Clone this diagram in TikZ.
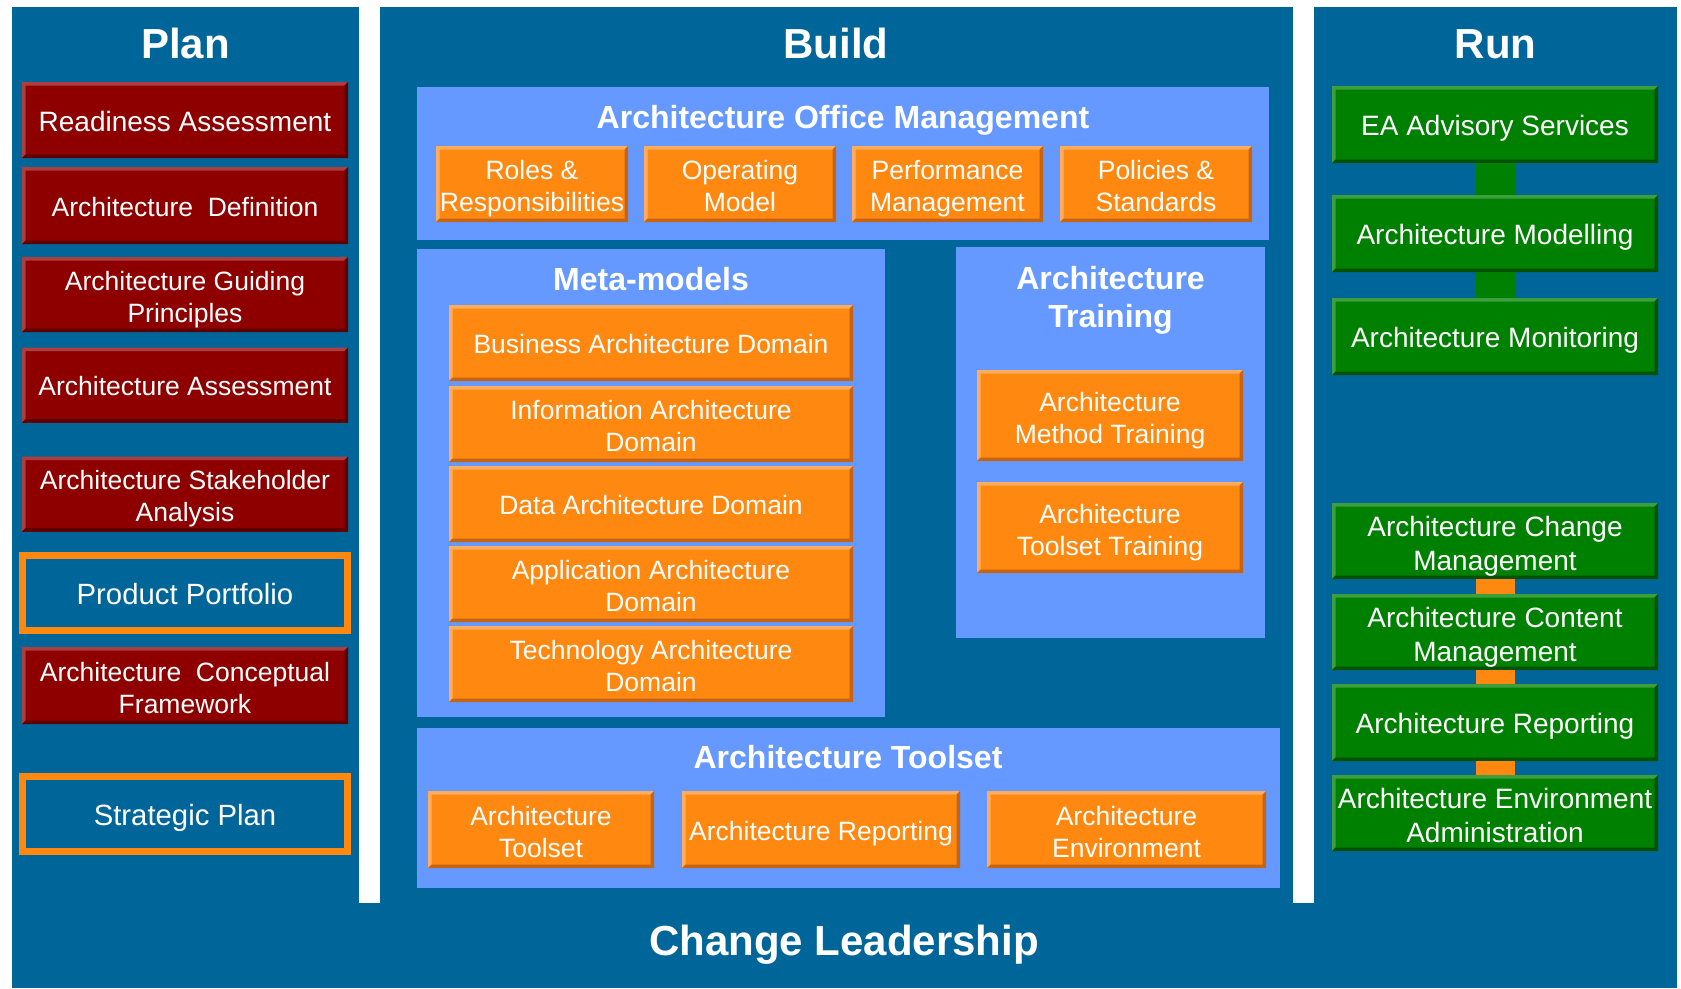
\documentclass[tikz,border=0pt]{standalone}
\usepackage{fontspec}
\setmainfont{Liberation Sans}
\definecolor{cblue}{RGB}{0,102,153}
\definecolor{clight}{RGB}{102,153,255}
\definecolor{corange}{RGB}{255,136,17}
\definecolor{corangeL}{RGB}{255,172,92}
\definecolor{corangeD}{RGB}{196,100,20}
\definecolor{cred}{RGB}{142,0,0}
\definecolor{credL}{RGB}{172,62,62}
\definecolor{credD}{RGB}{92,0,0}
\definecolor{cgreen}{RGB}{0,128,0}
\definecolor{cgreenL}{RGB}{62,158,62}
\definecolor{cgreenD}{RGB}{0,82,0}
\newcommand{\myTopStrut}[1]{\rule{0pt}{#1}}
\newcommand{\myLowStrut}[1]{\rule[-#1]{0pt}{#1}}
\tikzset{
  bevel/.style n args={3}{fill=#1, path picture={
    \fill[#2] (path picture bounding box.south west) -- (path picture bounding box.north west) -- (path picture bounding box.north east) -- ([shift={(-3.5pt,-3.5pt)}]path picture bounding box.north east) -- ([shift={(3.5pt,-3.5pt)}]path picture bounding box.north west) -- ([shift={(3.5pt,3.5pt)}]path picture bounding box.south west) -- cycle;
    \fill[#3] (path picture bounding box.south west) -- (path picture bounding box.south east) -- (path picture bounding box.north east) -- ([shift={(-3.5pt,-3.5pt)}]path picture bounding box.north east) -- ([shift={(-3.5pt,3.5pt)}]path picture bounding box.south east) -- ([shift={(3.5pt,3.5pt)}]path picture bounding box.south west) -- cycle;
  }},
  boxbase/.style={rectangle, inner sep=0pt, align=center, text=white,
    execute at begin node={\myTopStrut{1.03em}}, execute at end node={\myLowStrut{0.212em}}},
  twoline/.style={execute at begin node={\myTopStrut{\dimexpr\baselineskip+0.73em+9.6pt\relax}}},
  redbox/.style={boxbase, bevel={cred}{credL}{credD}, minimum width=326, minimum height=76, font=\fontsize{26.5}{32}\selectfont},
  framebox/.style={boxbase, fill=cblue, draw=corange, line width=7pt, minimum width=325, minimum height=75, font=\fontsize{29.3}{33}\selectfont},
  greenbox/.style={redbox, bevel={cgreen}{cgreenL}{cgreenD}, font=\fontsize{28}{34}\selectfont},
  orangebox/.style={boxbase, bevel={corange}{corangeL}{corangeD}, font=\fontsize{26.5}{32}\selectfont},
  coltitle/.style={text=white, font=\bfseries\fontsize{42}{48}\selectfont, anchor=base, inner sep=0pt},
  grouptitle/.style={text=white, font=\bfseries\fontsize{32}{38}\selectfont, align=center, inner sep=0pt},
  panel/.style={fill=clight},
}
\begin{document}
\begin{tikzpicture}[x=1pt,y=-1pt]
\useasboundingbox (0,0) rectangle (1681,988);
\fill[white] (0,0) rectangle (1681,988);
% main dark blue shape
\fill[cblue] (12,7) rectangle (1677,988);
\fill[white] (359,7) rectangle (380,903);
\fill[white] (1293,7) rectangle (1314,903);

% column titles
\node[coltitle] (plan) at (185.5,58) {Plan};
\node[coltitle] (build) at (836,58) {Build};
\node[coltitle] (run) at (1495.5,58) {Run};
\node[coltitle] (change) at (844,955) {Change Leadership};

% Plan column
\node[redbox, font=\fontsize{28}{32}\selectfont] (ready) at (185,120) {Readiness Assessment};
\node[redbox, minimum height=77] (def) at (185,205.5) {Architecture\ \ Definition};
\node[redbox, twoline, minimum height=75] (guide) at (185,294.5) {Architecture Guiding\\Principles};
\node[redbox, minimum height=75] (assess) at (185,385) {Architecture Assessment};
\node[redbox, twoline, minimum height=75] (stake) at (185,494) {Architecture Stakeholder\\Analysis};
\node[framebox] (product) at (185,593) {Product Portfolio};
\node[redbox, twoline, minimum height=77] (concept) at (185,685.5) {Architecture\ \ Conceptual\\Framework};
\node[framebox] (strategic) at (185,814) {Strategic Plan};

% Build column: Architecture Office Management
\fill[panel] (417,87) rectangle (1269,240);
\node[grouptitle] (aomt) at (843,120) {Architecture Office Management};
\node[orangebox, twoline, minimum width=192, minimum height=76] (roles) at (532,184) {Roles \&\\Responsibilities};
\node[orangebox, twoline, minimum width=192, minimum height=76] (opmodel) at (740,184) {Operating\\Model};
\node[orangebox, twoline, minimum width=191, minimum height=76] (perf) at (947.5,184) {Performance\\Management};
\node[orangebox, twoline, minimum width=192, minimum height=76] (policies) at (1156,184) {Policies \&\\Standards};

% Meta-models
\fill[panel] (417,249) rectangle (885,717);
\node[grouptitle] (metat) at (651,279) {Meta-models};
\node[orangebox, minimum width=404, minimum height=76] (bad) at (651,343) {Business Architecture Domain};
\node[orangebox, twoline, minimum width=404, minimum height=76] (iad) at (651,424) {Information Architecture\\Domain};
\node[orangebox, minimum width=404, minimum height=76] (dad) at (651,504) {Data Architecture Domain};
\node[orangebox, twoline, minimum width=404, minimum height=76] (aad) at (651,584) {Application Architecture\\Domain};
\node[orangebox, twoline, minimum width=404, minimum height=76] (tad) at (651,664) {Technology Architecture\\Domain};

% Architecture Training
\fill[panel] (956,247) rectangle (1265,638);
\node[grouptitle] (traint) at (1110.5,300) {Architecture\\Training};
\node[orangebox, twoline, minimum width=266, minimum height=91] (amt) at (1110,415.5) {Architecture\\Method Training};
\node[orangebox, twoline, minimum width=266, minimum height=91] (att) at (1110,527.5) {Architecture\\Toolset Training};

% Architecture Toolset
\fill[panel] (417,728) rectangle (1280,888);
\node[grouptitle] (toolt) at (848,757) {Architecture Toolset};
\node[orangebox, twoline, minimum width=226, minimum height=77] (atool) at (541,829.5) {Architecture\\Toolset};
\node[orangebox, minimum width=278, minimum height=77] (arep) at (821,829.5) {Architecture Reporting};
\node[orangebox, twoline, minimum width=279, minimum height=77] (aenv) at (1126.5,829.5) {Architecture\\Environment};

% Run column
\node[greenbox, minimum height=77] (ea) at (1495,124.5) {EA Advisory Services};
\node[greenbox, minimum height=77] (model) at (1495,233.5) {Architecture Modelling};
\node[greenbox, minimum height=77] (monitor) at (1495,336.5) {Architecture Monitoring};
\node[greenbox, twoline] (chg) at (1495,541) {Architecture Change\\Management};
\node[greenbox, twoline] (cont) at (1495,632) {Architecture Content\\Management};
\node[greenbox, minimum height=77] (rrep) at (1495,722.5) {Architecture Reporting};
\node[greenbox, twoline] (envadm) at (1495,813) {Architecture Environment\\Administration};

% Run connectors
\fill[cgreen] ([xshift=-19.5pt]ea.south) rectangle ([xshift=19.5pt]model.north);
\fill[cgreen] ([xshift=-19.5pt]model.south) rectangle ([xshift=19.5pt]monitor.north);
\fill[corange] ([xshift=-19.5pt]chg.south) rectangle ([xshift=19.5pt]cont.north);
\fill[corange] ([xshift=-19.5pt]cont.south) rectangle ([xshift=19.5pt]rrep.north);
\fill[corange] ([xshift=-19.5pt]rrep.south) rectangle ([xshift=19.5pt]envadm.north);
\end{tikzpicture}
\end{document}
